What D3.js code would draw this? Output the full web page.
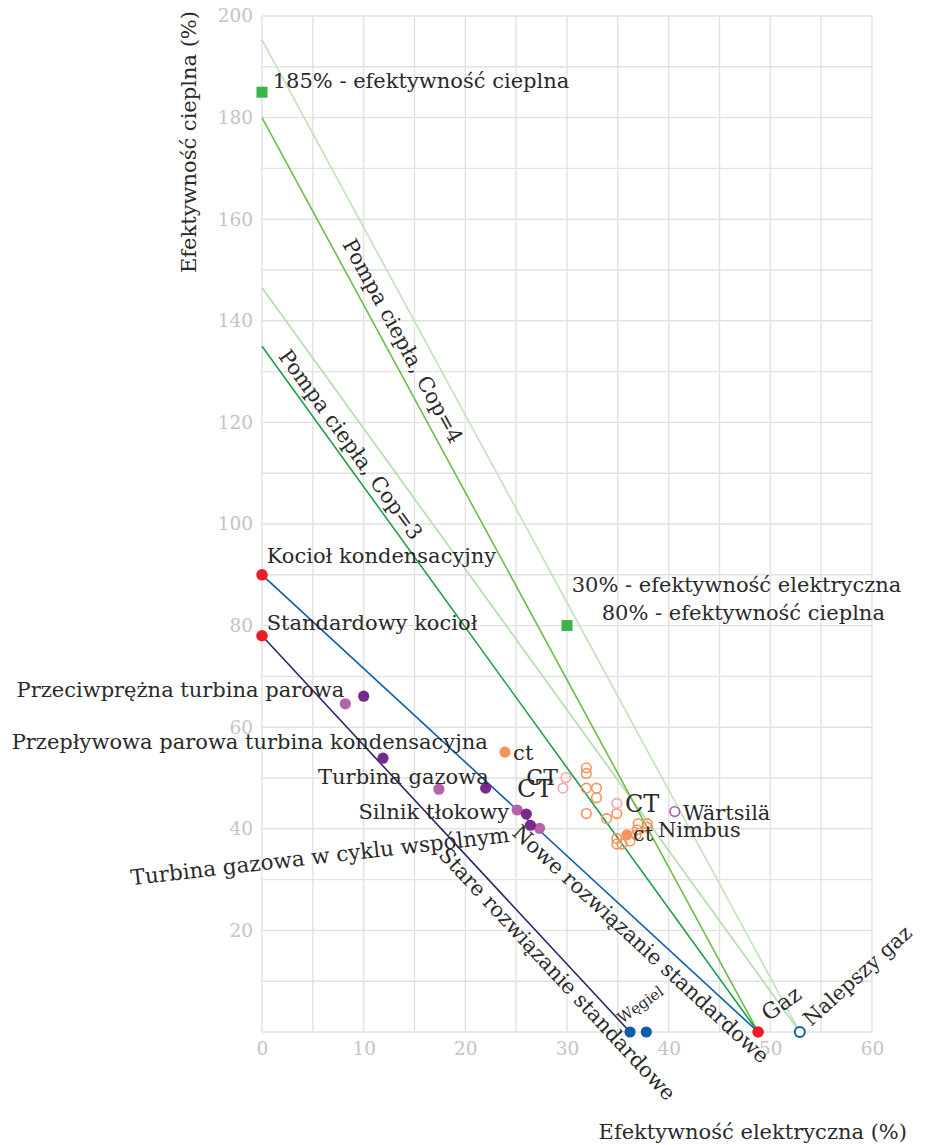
<!DOCTYPE html>
<html>
<head>
<meta charset="utf-8">
<script src="https://cdn.jsdelivr.net/npm/d3@7"></script>
<style>
body { margin: 0; background: #fff; }
text { font-family: "DejaVu Serif", serif; }
</style>
</head>
<body>
<div id="chart"></div>
<script>
//Svg size
const c_width = 926;
const c_height = 1145;
const plot = {left: 262, right: 872, top: 16, bottom: 1032};

//Ticks
const xTicks = [0, 10, 20, 30, 40, 50, 60];
const yTicks = [20, 40, 60, 80, 100, 120, 140, 160, 180, 200];

//Reference lines [electric %, heat %]
const lightLineHigh = [[0, 195.3], [52.9, 0]];
const lightLineLow = [[0, 146.5], [52.9, 0]];
const cop4Line = [[0, 180], [48.8, 0]];
const cop3Line = [[0, 135], [48.8, 0]];
const newStdLine = [[0, 90], [48.8, 0]];
const oldStdLine = [[0, 78], [36.2, 0]];

//Points [electric %, heat %]
const greenSquares = [[0, 185], [30, 80]];
const redPoints = [[0, 90], [0, 78], [48.8, 0]];
const purpleDark = [[10.0, 66.1], [11.9, 53.9], [22.0, 48.0], [26.0, 42.9], [26.4, 40.7]];
const purpleLight = [[8.2, 64.6], [17.4, 47.8], [25.1, 43.7], [27.3, 40.1]];
const ctFilled = [[23.9, 55.1], [35.9, 38.8]];
const ctOpen = [[31.9, 52.0], [31.9, 50.9], [31.9, 48.0], [32.9, 48.0], [32.9, 46.1],
                [31.9, 43.0], [33.9, 42.0], [34.9, 43.0], [34.9, 38.1], [34.9, 37.0],
                [35.4, 37.0], [36.2, 37.6], [36.8, 38.8], [37.0, 41.0], [37.9, 41.0],
                [36.9, 39.8], [37.9, 40.3]];
const ctPink = [[29.9, 50.1], [29.6, 48.0], [34.9, 45.0]];
const wartsila = [[40.6, 43.4]];
const coal = [[36.2, 0], [37.8, 0]];
const bestGas = [[52.9, 0]];

//Text labels [text, x, y, anchor, rotate, size]
const labels = [
  ["185% - efektywność cieplna", 1.05, 185.9, "start", 0, 21],
  ["Kocioł kondensacyjny", 0.46, 92.3, "start", 0, 21],
  ["Standardowy kocioł", 0.46, 79.1, "start", 0, 21],
  ["Przeciwprężna turbina parowa", 8.1, 65.9, "end", 0, 21],
  ["Przepływowa parowa turbina kondensacyjna", 22.2, 55.7, "end", 0, 21],
  ["Turbina gazowa", 22.3, 48.8, "end", 0, 21],
  ["Silnik tłokowy", 24.3, 41.9, "end", 0, 21],
  ["ct", 24.7, 53.5, "start", 0, 21],
  ["CT", 29.1, 48.6, "end", 0, 22],
  ["CT", 28.6, 46.3, "end", 0, 25],
  ["CT", 35.7, 43.3, "start", 0, 24],
  ["Wärtsilä", 41.4, 41.7, "start", 0, 21],
  ["ct", 36.5, 37.6, "start", 0, 21],
  ["Nimbus", 38.95, 38.4, "start", 0, 21],
  ["30% - efektywność elektryczna", 30.46, 86.7, "start", 0, 21],
  ["80% - efektywność cieplna", 33.41, 81.1, "start", 0, 21],
  ["Turbina gazowa w cyklu wspólnym", 24.4, 37.4, "end", -6.5, 21.5],
  ["Węgiel", 35.4, 1.6, "start", -35, 15],
  ["Gaz", 49.8, 2.0, "start", -35, 22],
  ["Nalepszy gaz", 54.0, 1.0, "start", -42, 20.5]
];

//Labels along lines [text, line, x on line, along px, perp px, anchor]
const lineLabels = [
  ["Pompa ciepła, Cop=4", cop4Line, 7.0, 0, -10, "start"],
  ["Pompa ciepła, Cop=3", cop3Line, 1.0, 0, -7, "start"],
  ["Nowe rozwiązanie standardowe", newStdLine, 48.8, 24, 22, "end"],
  ["Stare rozwiązanie standardowe", oldStdLine, 36.2, 76, 21, "end"]
];

const svg = d3.select("#chart")
              .append("svg")
              .attr("width", c_width)
              .attr("height", c_height);

const xScale = d3.scaleLinear().domain([0, 60]).range([plot.left, plot.right]);
const yScale = d3.scaleLinear().domain([0, 200]).range([plot.bottom, plot.top]);

//Grid
const grid = svg.append("g").attr("stroke", "#e2e2e2").attr("stroke-width", 1.4);
grid.selectAll("line.v")
    .data(d3.range(0, 61, 5))
    .enter().append("line")
    .attr("x1", d => xScale(d)).attr("x2", d => xScale(d))
    .attr("y1", yScale(0)).attr("y2", yScale(200));
grid.selectAll("line.h")
    .data(d3.range(0, 201, 10))
    .enter().append("line")
    .attr("y1", d => yScale(d)).attr("y2", d => yScale(d))
    .attr("x1", xScale(0)).attr("x2", xScale(60));

//Axes (labels only)
const xAxis = d3.axisBottom(xScale).tickValues(xTicks).tickSize(0).tickPadding(10);
const yAxis = d3.axisLeft(yScale).tickValues(yTicks).tickSize(0).tickPadding(9);

svg.append("g")
   .attr("transform", "translate(0," + yScale(0) + ")")
   .call(xAxis)
   .call(g => g.select(".domain").remove())
   .selectAll("text")
   .attr("fill", "#c4c4c4").style("font-size", "18.5px").style("font-family", "DejaVu Serif");

svg.append("g")
   .attr("transform", "translate(" + xScale(0) + ",0)")
   .call(yAxis)
   .call(g => g.select(".domain").remove())
   .selectAll("text")
   .attr("fill", "#c4c4c4").style("font-size", "18.5px").style("font-family", "DejaVu Serif");

//Axis titles
svg.append("text")
   .attr("transform", "translate(196," + (yScale(200) - 5) + ") rotate(-90)")
   .attr("text-anchor", "end")
   .attr("fill", "#2a2a2a")
   .style("font-size", "21px")
   .text("Efektywność cieplna (%)");

svg.append("text")
   .attr("x", 907)
   .attr("y", 1139)
   .attr("text-anchor", "end")
   .attr("fill", "#2a2a2a")
   .style("font-size", "21px")
   .text("Efektywność elektryczna (%)");

//Lines
const line = d3.line().x(d => xScale(d[0])).y(d => yScale(d[1]));
const lineSeries = [
  [lightLineHigh, "#bfe3b8"],
  [lightLineLow, "#b2dcaa"],
  [cop4Line, "#6dbd45"],
  [cop3Line, "#1e9e48"],
  [newStdLine, "#0c5cac"],
  [oldStdLine, "#2c2868"]
];
svg.selectAll("path.ref")
   .data(lineSeries)
   .enter().append("path")
   .attr("d", d => line(d[0]))
   .attr("fill", "none")
   .attr("stroke", d => d[1])
   .attr("stroke-width", 1.6);

//Points
function dots(data, r, fill, stroke, sw) {
  svg.append("g").selectAll("circle")
     .data(data)
     .enter().append("circle")
     .attr("cx", d => xScale(d[0]))
     .attr("cy", d => yScale(d[1]))
     .attr("r", r)
     .attr("fill", fill)
     .attr("stroke", stroke)
     .attr("stroke-width", sw);
}

dots(ctOpen, 4.8, "none", "#f7925c", 1.6);
dots(ctPink, 4.8, "none", "#f5a4ac", 1.6);
dots(wartsila, 4.8, "none", "#a85aa8", 1.6);
dots(ctFilled, 5.6, "#f7935f", "none", 0);
dots(purpleLight, 5.6, "#b562a8", "none", 0);
dots(purpleDark, 5.6, "#79298b", "none", 0);
dots(coal, 5.6, "#0c5cac", "none", 0);
dots(bestGas, 5, "#fff", "#0c5cac", 2);
dots(redPoints, 5.8, "#ee1c25", "none", 0);

svg.append("g").selectAll("rect")
   .data(greenSquares)
   .enter().append("rect")
   .attr("x", d => xScale(d[0]) - 5.5)
   .attr("y", d => yScale(d[1]) - 5.5)
   .attr("width", 11).attr("height", 11)
   .attr("fill", "#3bb54a");

//Text labels
svg.append("g").selectAll("text")
   .data(labels)
   .enter().append("text")
   .attr("transform", d => "translate(" + xScale(d[1]) + "," + yScale(d[2]) + ") rotate(" + d[4] + ")")
   .attr("text-anchor", d => d[3])
   .attr("fill", "#2a2a2a")
   .style("font-size", d => d[5] + "px")
   .text(d => d[0]);

//Labels along lines
svg.append("g").selectAll("text")
   .data(lineLabels)
   .enter().append("text")
   .attr("transform", d => {
     const pts = d[1];
     const x0 = xScale(pts[0][0]), y0 = yScale(pts[0][1]);
     const x1 = xScale(pts[1][0]), y1 = yScale(pts[1][1]);
     const ang = Math.atan2(y1 - y0, x1 - x0);
     const t = (d[2] - pts[0][0]) / (pts[1][0] - pts[0][0]);
     const bx = x0 + t * (x1 - x0), by = y0 + t * (y1 - y0);
     const px = bx + d[3] * Math.cos(ang) - d[4] * Math.sin(ang);
     const py = by + d[3] * Math.sin(ang) + d[4] * Math.cos(ang);
     return "translate(" + px + "," + py + ") rotate(" + (ang * 180 / Math.PI) + ")";
   })
   .attr("text-anchor", d => d[5])
   .attr("fill", "#2a2a2a")
   .style("font-size", "21px")
   .text(d => d[0]);
</script>
</body>
</html>
